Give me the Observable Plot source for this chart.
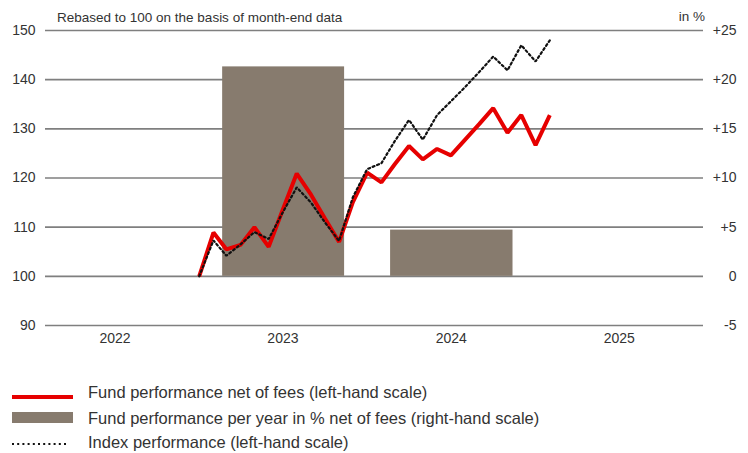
<!DOCTYPE html>
<html>
<head>
<meta charset="utf-8">
<script src="https://cdn.jsdelivr.net/npm/d3@7"></script>
<script src="https://cdn.jsdelivr.net/npm/@observablehq/plot@0.6"></script>
<style>
  html, body { margin: 0; padding: 0; background: #fff; }
  #wrap { position: relative; width: 748px; height: 453px; font-family: "Liberation Sans", Arial, sans-serif; color: #333; overflow: hidden; }
  #chart { position: absolute; left: 0; top: 0; }
  .note { position: absolute; font-size: 13.5px; line-height: 16px; white-space: nowrap; }
  .leg { position: absolute; left: 88px; font-size: 16.5px; line-height: 20px; white-space: nowrap; }
  .sw { position: absolute; left: 12px; width: 61px; }
</style>
</head>
<body>
<div id="wrap">
  <div id="chart"></div>
  <div class="note" id="title" style="left:57px; top:10px;"></div>
  <div class="note" id="unit" style="right:43px; top:9px;"></div>
  <div id="legend"></div>
</div>
<script>
// ---- data ----
const months = ["2022-12","2023-01","2023-02","2023-03","2023-04","2023-05","2023-06","2023-07","2023-08","2023-09","2023-10","2023-11","2023-12",
                "2024-01","2024-02","2024-03","2024-04","2024-05","2024-06","2024-07","2024-08","2024-09","2024-10","2024-11","2024-12","2025-01"];
const fundValues  = [100, 108.9, 105.5, 106.4, 110.0, 106.0, 113.4, 120.9, 116.6, 111.8, 107.0, 115.1, 121.1,
                     119.1, 122.8, 126.5, 123.8, 125.9, 124.6, 127.8, 131.0, 134.2, 129.2, 132.8, 126.7, 132.8];
const indexValues = [100, 107.3, 104.2, 106.5, 109.0, 107.6, 112.9, 118.1, 115.0, 111.0, 107.2, 116.1, 121.8,
                     123.0, 127.5, 131.8, 127.8, 132.8, 135.6, 138.5, 141.6, 144.7, 141.9, 147.0, 143.7, 148.0];
const barYears = [2023, 2024];
const barPct   = [21.3, 4.7];
const yearLabels = [2022, 2023, 2024, 2025];
const leftTicks  = [90, 100, 110, 120, 130, 140, 150];
const titleText = "Rebased to 100 on the basis of month-end data";
const unitText  = "in %";
const legendLabels = [
  "Fund performance net of fees (left-hand scale)",
  "Fund performance per year in % net of fees (right-hand scale)",
  "Index performance (left-hand scale)"
];

// ---- build tables ----
const monthEnd = s => { const [y, m] = s.split("-").map(Number); return new Date(Date.UTC(y, m, 0)); };
const fund  = months.map((m, i) => ({date: monthEnd(m), value: fundValues[i]}));
const index = months.map((m, i) => ({date: monthEnd(m), value: indexValues[i]}));
const bars  = barYears.map((y, i) => ({start: new Date(Date.UTC(y, 0, 1)), end: new Date(Date.UTC(y + 1, 0, 1)), pct: barPct[i]}));
const toLeft = p => 100 + 2 * p;            // right-hand % scale mapped onto left-hand scale
const fmtPct = p => p > 0 ? "+" + p : (p < 0 ? "-" + Math.abs(p) : "0");

const chart = Plot.plot({
  width: 748, height: 350,
  marginLeft: 45, marginRight: 45, marginTop: 30, marginBottom: 25,
  style: {fontFamily: "'Liberation Sans', Arial, sans-serif", fontSize: "14px", color: "#333", background: "transparent"},
  x: {type: "utc", domain: [new Date(Date.UTC(2022, 1, 0)), new Date(Date.UTC(2026, 0, 0))]},
  y: {domain: [90, 150], label: null},
  marks: [
    Plot.ruleY(leftTicks, {stroke: "#7f7f7f", strokeWidth: 1.6}),
    Plot.rectY(bars, {x1: "start", x2: "end", y1: 100, y2: d => toLeft(d.pct), fill: "#877b6e", insetLeft: 23, insetRight: 23}),
    Plot.line(fund, {x: "date", y: "value", stroke: "#e60000", strokeWidth: 4, strokeLinejoin: "miter", strokeLinecap: "butt"}),
    Plot.line(index, {x: "date", y: "value", stroke: "#111", strokeWidth: 2.2, strokeDasharray: "2 2.8", strokeLinejoin: "miter"}),
    Plot.axisX(yearLabels.map(y => new Date(Date.UTC(y, 6, 1))), {tickSize: 0, tickPadding: 8, tickFormat: d => String(d.getUTCFullYear()), label: null}),
    Plot.axisY(leftTicks, {anchor: "left", tickSize: 0, tickPadding: 10, tickFormat: d => String(d), label: null}),
    Plot.axisY(leftTicks, {anchor: "right", tickSize: 0, tickPadding: 0, textAnchor: "end", dx: 33, tickFormat: v => fmtPct((v - 100) / 2), label: null})
  ]
});
document.getElementById("chart").appendChild(chart);
document.getElementById("title").textContent = titleText;
document.getElementById("unit").textContent = unitText;

// ---- legend ----
const legend = document.getElementById("legend");
const rowTops = [381.6, 407.6, 431.6];
legendLabels.forEach((t, i) => {
  const d = document.createElement("div");
  d.className = "leg"; d.style.top = rowTops[i] + "px"; d.textContent = t;
  legend.appendChild(d);
});
const s1 = document.createElement("div"); s1.className = "sw";
s1.style.cssText += "top:395px;height:3.6px;background:#e60000;"; legend.appendChild(s1);
const s2 = document.createElement("div"); s2.className = "sw";
s2.style.cssText += "top:412px;height:11px;background:#877b6e;"; legend.appendChild(s2);
const s3 = document.createElementNS("http://www.w3.org/2000/svg", "svg");
s3.setAttribute("width", 62); s3.setAttribute("height", 6);
s3.style.cssText = "position:absolute;left:12px;top:441px;";
const ln = document.createElementNS("http://www.w3.org/2000/svg", "line");
ln.setAttribute("x1", 0); ln.setAttribute("x2", 57); ln.setAttribute("y1", 3); ln.setAttribute("y2", 3);
ln.setAttribute("stroke", "#111"); ln.setAttribute("stroke-width", 2.2); ln.setAttribute("stroke-dasharray", "2 3.2");
s3.appendChild(ln); legend.appendChild(s3);
</script>
</body>
</html>
